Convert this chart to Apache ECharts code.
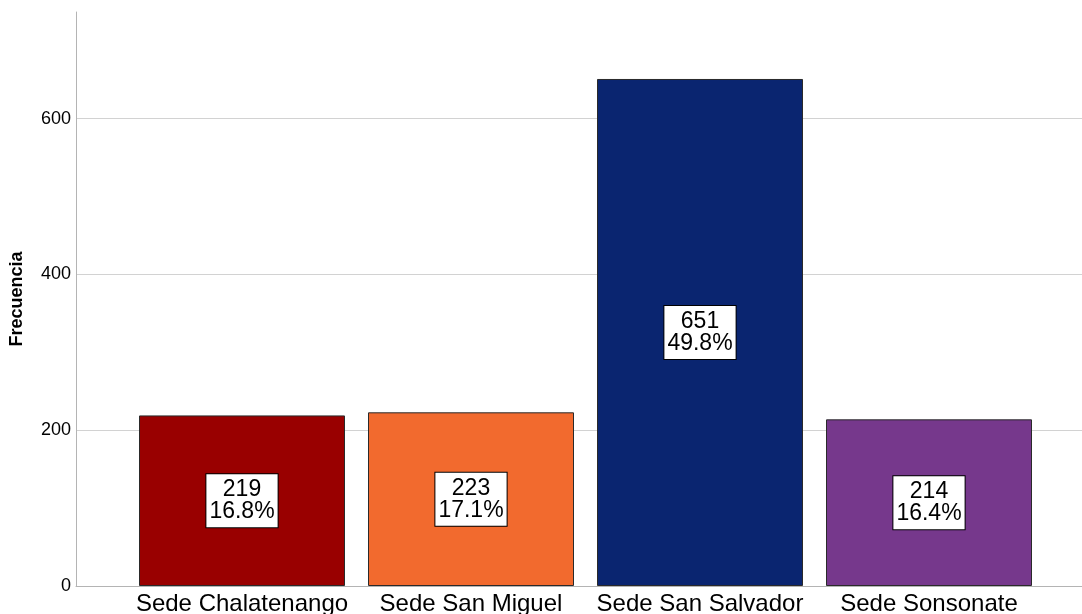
<!DOCTYPE html>
<html>
<head>
<meta charset="utf-8">
<script src="https://cdn.jsdelivr.net/npm/echarts@6/dist/echarts.min.js"></script>
<style>
html, body { margin: 0; padding: 0; background: #fff; }
#chart { width: 1082px; height: 614px; }
</style>
</head>
<body>
<div id="chart"></div>
<script>
// datos
var categorias = ['Sede Chalatenango', 'Sede San Miguel', 'Sede San Salvador', 'Sede Sonsonate'];
var frecuencias = [219, 223, 651, 214];
var porcentajes = ['16.8', '17.1', '49.8', '16.4'];
var colores = ['#990000', '#F26A2E', '#0A2570', '#76388C'];

var chart = echarts.init(document.getElementById('chart'));

var font = 'Liberation Sans, Arial, sans-serif';
var yMax = 737;

var option = {
	animation: false,
	grid: [
		{ left: 76, right: 0, top: 12, bottom: 28, containLabel: false, outerBoundsMode: 'none' },		// ejes y cuadrícula
		{ left: 127.5, right: 38.5, top: 12, bottom: 28, containLabel: false, outerBoundsMode: 'none' }	// barras
	],
	xAxis: [{
		gridIndex: 0,
		type: 'category',
		data: ['a'],
		axisLine: { show: true, lineStyle: { color: '#b4b4b4', width: 1 } },
		axisTick: { show: false },
		axisLabel: { show: false }
	}, {
		gridIndex: 1,
		type: 'category',
		data: categorias,
		axisLine: { show: false },
		axisTick: { show: false },
		axisLabel: {
			interval: 0,
			margin: 6,
			color: '#000',
			fontFamily: font,
			fontSize: 24
		}
	}],
	yAxis: [{
		gridIndex: 0,
		type: 'value',
		min: 0,
		max: yMax,
		interval: 200,
		name: 'Frecuencia',
		nameLocation: 'middle',
		nameGap: 50,
		nameTextStyle: {
			color: '#000',
			fontFamily: font,
			fontWeight: 'bold',
			fontSize: 18
		},
		axisLine: { show: true, lineStyle: { color: '#b4b4b4', width: 1 } },
		axisTick: { show: false },
		axisLabel: {
			margin: 5,
			color: '#000',
			fontFamily: font,
			fontSize: 18,
			showMaxLabel: false
		},
		splitLine: {
			show: true,
			showMaxLine: false,
			lineStyle: { color: '#d2d2d2', width: 1 }
		}
	}, {
		gridIndex: 1,
		type: 'value',
		min: 0,
		max: yMax,
		show: false,
		splitLine: { show: false }
	}],
	series: [{
		type: 'bar',
		xAxisIndex: 1,
		yAxisIndex: 1,
		barWidth: 206,
		data: frecuencias.map(function (v, i) {
			return { value: v, itemStyle: { color: colores[i] } };
		}),
		itemStyle: {
			borderColor: '#2a2a2a',
			borderWidth: 1
		},
		label: {
			show: true,
			position: 'inside',
			formatter: function (p) {
				return frecuencias[p.dataIndex] + '\n' + porcentajes[p.dataIndex] + '%';
			},
			color: '#000',
			fontFamily: font,
			fontSize: 23,
			lineHeight: 22,
			backgroundColor: '#fff',
			borderColor: '#000',
			borderWidth: 1,
			padding: [5, 3, 4, 3]
		}
	}]
};

chart.setOption(option);
</script>
</body>
</html>
